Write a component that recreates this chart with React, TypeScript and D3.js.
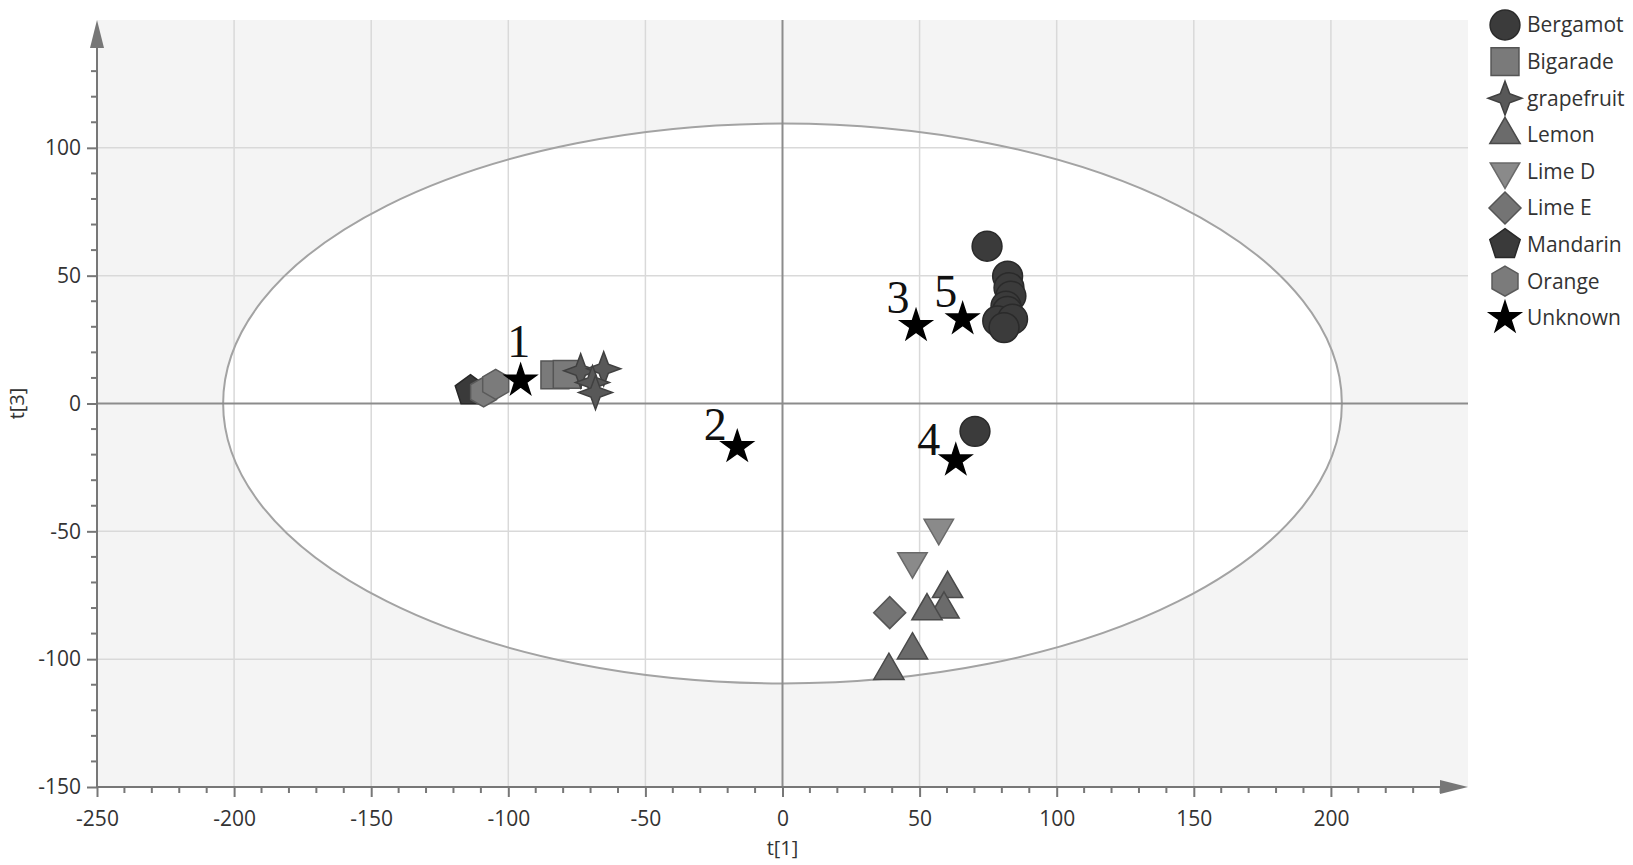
import React, { useRef, useEffect } from "react";
import * as d3 from "d3";

// score values, t[1] / t[3]
const bergamot = [
  [74.6, 61.5], [82.1, 49.8], [82.6, 45.3], [83.3, 42], [81.5, 38.1],
  [82.0, 36.0], [78.5, 32.3], [83.9, 33.0], [80.8, 29.7], [70.2, -10.9],
];
const bigarade = [[-83, 11.2], [-78.5, 11.4]];
const grapefruit = [[-73.6, 12.8], [-65.2, 13.6], [-69.3, 8.2], [-68.2, 4.3]];
const lemon = [[60.2, -72.5], [58.9, -80.5], [52.7, -81.2], [47.4, -96.5], [38.8, -104.5]];
const limeD = [[57, -48.6], [47.4, -61.7]];
const limeE = [[39.1, -81.8]];
const mandarin = [[-113.8, 5]];
const orange = [[-109, 4.5], [-104.6, 7.5]];
const unknown = [[-95.5, 9], [-16.5, -17], [48.7, 30.4], [63.2, -22.2], [65.7, 33]];
const unknownLabels = ["1", "2", "3", "4", "5"];
const labelOffsets = [[-2, -23], [-22, -7], [-18, -13], [-27, -5], [-17, -12]];

const xTicks = [-250, -200, -150, -100, -50, 0, 50, 100, 150, 200];
const yTicks = [-150, -100, -50, 0, 50, 100];

function poly(n, r, rot) {
  const pts = [];
  for (let i = 0; i < n; i++) {
    const a = rot + (i * 2 * Math.PI) / n;
    pts.push([r * Math.sin(a), -r * Math.cos(a)]);
  }
  return "M" + pts.map(p => p.join(",")).join("L") + "Z";
}
function star4(r, ri) {
  const pts = [];
  for (let i = 0; i < 8; i++) {
    const a = (i * Math.PI) / 4;
    const rr = i % 2 === 0 ? r : ri;
    pts.push([rr * Math.sin(a), -rr * Math.cos(a)]);
  }
  return "M" + pts.map(p => p.join(",")).join("L") + "Z";
}

const groups = [
  { name: "Bergamot", data: bergamot, fill: "#3b3b3b", stroke: "#2a2a2a", shape: d3.symbol(d3.symbolCircle, 700)() },
  { name: "Bigarade", data: bigarade, fill: "#7a7a7a", stroke: "#555", shape: d3.symbol(d3.symbolSquare, 780)() },
  { name: "grapefruit", data: grapefruit, fill: "#585858", stroke: "#404040", shape: star4(17, 6.5) },
  { name: "Lemon", data: lemon, fill: "#6b6b6b", stroke: "#4a4a4a", shape: poly(3, 17.5, 0) },
  { name: "Lime D", data: limeD, fill: "#8a8a8a", stroke: "#6a6a6a", shape: poly(3, 17, Math.PI) },
  { name: "Lime E", data: limeE, fill: "#747474", stroke: "#555", shape: poly(4, 16, 0) },
  { name: "Mandarin", data: mandarin, fill: "#3a3a3a", stroke: "#282828", shape: poly(5, 16, 0) },
  { name: "Orange", data: orange, fill: "#7b7b7b", stroke: "#5a5a5a", shape: poly(6, 15, 0) },
  { name: "Unknown", data: unknown, fill: "#000", stroke: "#000", shape: d3.symbol(d3.symbolStar, 310)() },
];

export default function App() {
  const svgRef = useRef();

  useEffect(() => {
    const svg = d3.select(svgRef.current);
    svg.selectAll("*").remove();

    const x = d3.scaleLinear().domain([-250, 250]).range([97, 1468]);
    const y = d3.scaleLinear().domain([-150, 150]).range([787, 20]);
    const font = "'Open Sans', 'Noto Sans', sans-serif";

    // background + ellipse
    svg.append("rect")
      .attr("x", x(-250)).attr("y", y(150))
      .attr("width", x(250) - x(-250)).attr("height", y(-150) - y(150))
      .attr("fill", "#f4f4f4");
    svg.append("ellipse")
      .attr("cx", x(0)).attr("cy", y(0))
      .attr("rx", x(204) - x(0)).attr("ry", y(0) - y(109.5))
      .attr("fill", "#fff");

    //Grids
    svg.append("g").selectAll("line").data(xTicks.filter(t => t !== 0 && t !== -250)).join("line")
      .attr("x1", d => x(d)).attr("x2", d => x(d))
      .attr("y1", y(150)).attr("y2", y(-150))
      .attr("stroke", "#d9d9d9").attr("stroke-width", 1.5);
    svg.append("g").selectAll("line").data(yTicks.filter(t => t !== 0 && t !== -150)).join("line")
      .attr("x1", x(-250)).attr("x2", x(250))
      .attr("y1", d => y(d)).attr("y2", d => y(d))
      .attr("stroke", "#d9d9d9").attr("stroke-width", 1.5);

    svg.append("ellipse")
      .attr("cx", x(0)).attr("cy", y(0))
      .attr("rx", x(204) - x(0)).attr("ry", y(0) - y(109.5))
      .attr("fill", "none").attr("stroke", "#a3a3a3").attr("stroke-width", 2);

    // zero lines
    svg.append("line").attr("x1", x(-250)).attr("x2", x(250)).attr("y1", y(0)).attr("y2", y(0))
      .attr("stroke", "#8c8c8c").attr("stroke-width", 2);
    svg.append("line").attr("x1", x(0)).attr("x2", x(0)).attr("y1", y(150)).attr("y2", y(-150))
      .attr("stroke", "#8c8c8c").attr("stroke-width", 2);

    // axes
    const fmt = d => String(d);
    const xAxis = d3.axisBottom(x).tickValues(xTicks).tickSize(10).tickPadding(14).tickFormat(fmt);
    const gx = svg.append("g").attr("transform", `translate(0,${y(-150)})`).call(xAxis);
    const yAxis = d3.axisLeft(y).tickValues(yTicks).tickSize(10).tickPadding(6).tickFormat(fmt);
    const gy = svg.append("g").attr("transform", `translate(${x(-250)},0)`).call(yAxis);
    [gx, gy].forEach(g => {
      g.select(".domain").remove();
      g.selectAll("line").attr("stroke", "#777").attr("stroke-width", 2);
      g.selectAll("text").attr("fill", "#333").style("font-family", font).style("font-size", "21px");
    });

    // minor ticks
    svg.append("g").selectAll("line").data(d3.range(-250, 250, 10).filter(v => v % 50 !== 0)).join("line")
      .attr("x1", d => x(d)).attr("x2", d => x(d))
      .attr("y1", y(-150)).attr("y2", y(-150) + 6)
      .attr("stroke", "#777").attr("stroke-width", 2);
    svg.append("g").selectAll("line").data(d3.range(-150, 150, 10).filter(v => v % 50 !== 0)).join("line")
      .attr("x1", x(-250) - 6).attr("x2", x(-250))
      .attr("y1", d => y(d)).attr("y2", d => y(d))
      .attr("stroke", "#777").attr("stroke-width", 2);

    svg.append("line").attr("x1", x(-250)).attr("x2", x(250) - 20).attr("y1", y(-150)).attr("y2", y(-150))
      .attr("stroke", "#777").attr("stroke-width", 2);
    svg.append("line").attr("x1", x(-250)).attr("x2", x(-250)).attr("y1", y(-150)).attr("y2", y(150) + 20)
      .attr("stroke", "#777").attr("stroke-width", 2);
    svg.append("path")
      .attr("d", `M${x(250)},${y(-150)}L${x(250) - 28},${y(-150) - 7}L${x(250) - 28},${y(-150) + 7}Z`)
      .attr("fill", "#777");
    svg.append("path")
      .attr("d", `M${x(-250)},${y(150)}L${x(-250) - 7},${y(150) + 28}L${x(-250) + 7},${y(150) + 28}Z`)
      .attr("fill", "#777");

    // axis titles
    svg.append("text").attr("x", x(0)).attr("y", 855).attr("text-anchor", "middle")
      .attr("fill", "#333").style("font-family", font).style("font-size", "20px").text("t[1]");
    svg.append("text").attr("transform", `translate(24,${y(0)}) rotate(-90)`).attr("text-anchor", "middle")
      .attr("fill", "#333").style("font-family", font).style("font-size", "20px").text("t[3]");

    // points
    groups.forEach(gr => {
      svg.append("g").selectAll("path").data(gr.data).join("path")
        .attr("d", gr.shape)
        .attr("transform", d => `translate(${x(d[0])},${y(d[1])})`)
        .attr("fill", gr.fill)
        .attr("stroke", gr.stroke)
        .attr("stroke-width", 1.5);
    });

    // numbers on the unknown samples
    svg.append("g").selectAll("text").data(unknown).join("text")
      .attr("x", (d, i) => x(d[0]) + labelOffsets[i][0])
      .attr("y", (d, i) => y(d[1]) + labelOffsets[i][1])
      .attr("text-anchor", "middle")
      .style("font-family", "'Liberation Serif', 'Times New Roman', serif")
      .style("font-size", "46px")
      .attr("fill", "#111")
      .text((d, i) => unknownLabels[i]);

    // legend
    const legend = svg.append("g").attr("transform", "translate(1505,25)");
    const row = legend.selectAll("g").data(groups).join("g")
      .attr("transform", (d, i) => `translate(0,${i * 36.6})`);
    row.append("path").attr("d", d => d.shape)
      .attr("fill", d => d.fill).attr("stroke", d => d.stroke).attr("stroke-width", 1.5);
    row.append("text").attr("x", 22).attr("dy", "0.35em")
      .attr("fill", "#333").style("font-family", font).style("font-size", "21px")
      .text(d => d.name);
  }, []);

  return (
    <svg ref={svgRef} width={1633} height={865}
      style={{ position: "absolute", left: 0, top: 0, background: "#fff" }} />
  );
}
